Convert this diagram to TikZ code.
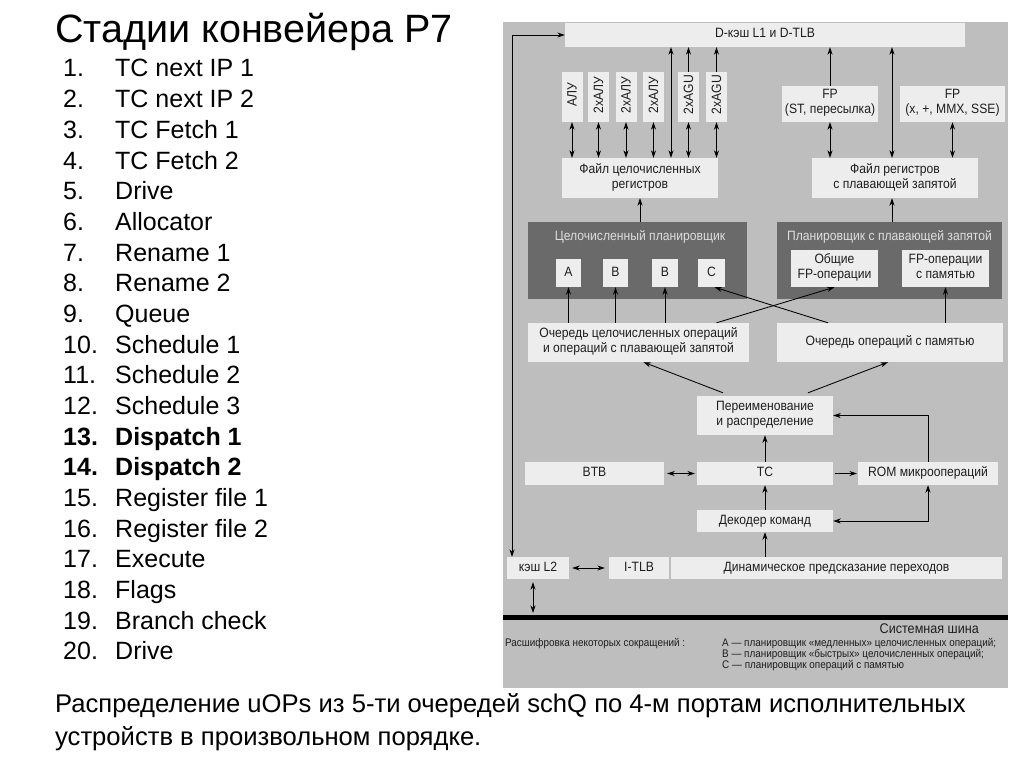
\documentclass[tikz,border=0pt]{standalone}
\usepackage{fontspec}
\setmainfont{Liberation Sans}
\newfontfamily\narrowsans[FakeStretch=0.9]{Liberation Sans}
\usepackage{graphicx}
\usetikzlibrary{arrows.meta}

\definecolor{panelgray}{RGB}{190,190,190}
\definecolor{boxlight}{RGB}{237,237,237}
\definecolor{schdark}{RGB}{106,106,106}
\definecolor{schtext}{RGB}{222,222,222}
\definecolor{ink}{RGB}{30,30,30}

\tikzset{
  lbox/.style={fill=boxlight, inner sep=0pt, text=ink, align=center,
    font=\narrowsans\fontsize{13.5}{15}\selectfont,
    execute at begin node=\strut, execute at end node=\strut},
  dbox/.style={fill=schdark, inner sep=0pt},
  schtitle/.style={text=schtext, inner sep=0pt, font=\narrowsans\fontsize{13.5}{15}\selectfont},
  stage/.style={inner sep=0pt, font=\fontsize{25}{30}\selectfont},
  legend/.style={inner sep=0pt, text=ink, font=\narrowsans\fontsize{11}{11}\selectfont},
  wire/.style={line width=0.85pt, black}
}

\begin{document}
\begin{tikzpicture}[x=1pt, y=-1pt, >={Stealth[length=7.5pt,width=5pt]}]
\useasboundingbox (0,0) rectangle (1024,768);

% stages list
\node[inner sep=0pt, anchor=base west, font=\fontsize{39.5}{44}\selectfont] (title) at (55,43) {Стадии конвейера P7};
\foreach \t [count=\i] in {TC next IP 1, TC next IP 2, TC Fetch 1, TC Fetch 2, Drive,
  Allocator, Rename 1, Rename 2, Queue, Schedule 1, Schedule 2, Schedule 3,
  Dispatch 1, Dispatch 2, Register file 1, Register file 2, Execute, Flags,
  Branch check, Drive}{
  \ifnum\i=13 \def\f{\bfseries}\else\ifnum\i=14 \def\f{\bfseries}\else\def\f{}\fi\fi
  \node[stage, anchor=base west] (num\i) at (63,{77+30.67*(\i-1)}) {\f\i.};
  \node[stage, anchor=base west] (stg\i) at (115,{77+30.67*(\i-1)}) {\f\t};
}
\node[stage, anchor=base west, font=\fontsize{25.6}{30}\selectfont] (note1) at (55,712)
  {Распределение uOPs из 5-ти очередей schQ по 4-м портам исполнительных};
\node[stage, anchor=base west, font=\fontsize{25.6}{30}\selectfont] (note2) at (55,745)
  {устройств в произвольном порядке.};

% block diagram
\fill[panelgray] (503,22) rectangle (1008,688);

\node[lbox, minimum width=400, minimum height=24] (dcache) at (765,35) {D-кэш L1 и D-TLB};
\foreach \nm/\x/\t in {alu1/572/АЛУ, alu2/598.5/2хАЛУ, alu3/626/2хАЛУ,
  alu4/653.5/2хАЛУ, agu1/688.5/2xAGU, agu2/716.5/2xAGU}
  \node[lbox, minimum width=21, minimum height=50, execute at begin node={}, execute at end node={}]
    (\nm) at (\x,97) {\rotatebox{90}{\t}};
\node[lbox, minimum width=96, minimum height=36] (fpst) at (830,104) {FP\\(ST, пересылка)};
\node[lbox, minimum width=105, minimum height=36] (fpmmx) at (952.5,104) {FP\\(x, +, MMX, SSE)};
\node[lbox, minimum width=156, minimum height=40] (intrf) at (640,178) {Файл целочисленных\\регистров};
\node[lbox, minimum width=166, minimum height=40] (fprf) at (895,178) {Файл регистров\\с плавающей запятой};

\node[dbox, minimum width=219, minimum height=77] (intsched) at (637.5,260.5) {};
\node[schtitle] (intschedT) at (640,237) {Целочисленный планировщик};
\node[lbox, minimum width=25, minimum height=28] (A) at (568.5,273) {A};
\node[lbox, minimum width=25, minimum height=28] (B1) at (615.5,273) {B};
\node[lbox, minimum width=26, minimum height=28] (B2) at (665,273) {B};
\node[lbox, minimum width=27, minimum height=28] (C) at (711.5,273) {C};
\node[dbox, minimum width=225, minimum height=77] (fpsched) at (889.5,260.5) {};
\node[schtitle] (fpschedT) at (889.5,237) {Планировщик с плавающей запятой};
\node[lbox, minimum width=87, minimum height=37] (fpcom) at (834.5,268.5) {Общие\\FP-операции};
\node[lbox, minimum width=87, minimum height=37] (fpmem) at (945.5,268.5) {FP-операции\\с памятью};

\node[lbox, minimum width=221, minimum height=39] (intq) at (638.5,342.5)
  {Очередь целочисленных операций\\и операций с плавающей запятой};
\node[lbox, minimum width=226, minimum height=39] (memq) at (890,342.5) {Очередь операций с памятью};
\node[lbox, minimum width=136, minimum height=39] (rename) at (765,415.5) {Переименование\\и распределение};
\node[lbox, minimum width=139, minimum height=23] (btb) at (594.5,473.5) {BTB};
\node[lbox, minimum width=136, minimum height=23] (tc) at (765,473.5) {TC};
\node[lbox, minimum width=140, minimum height=23] (rom) at (928,473.5) {ROM микроопераций};
\node[lbox, minimum width=136, minimum height=22] (decoder) at (765,521) {Декодер команд};
\node[lbox, minimum width=62, minimum height=22] (l2) at (538,568) {кэш L2};
\node[lbox, minimum width=60, minimum height=22] (itlb) at (639,568) {I-TLB};
\node[lbox, minimum width=331, minimum height=22] (bpred) at (836.5,568) {Динамическое предсказание переходов};

\coordinate (busL) at (503,617);
\coordinate (busR) at (1008,617);
\draw[line width=5pt] (busL) -- (busR);
\node[inner sep=0pt, anchor=east, text=ink, font=\narrowsans\fontsize{14}{16}\selectfont] (bus) at (979,629) {Системная шина};
\node[legend, anchor=west] (legT) at (505,644) {Расшифровка некоторых сокращений :};
\node[legend, anchor=west] (legA) at (722,644) {A — планировщик «медленных» целочисленных операций;};
\node[legend, anchor=west] (legB) at (722,655) {B — планировщик «быстрых» целочисленных операций;};
\node[legend, anchor=west] (legC) at (722,666) {C — планировщик операций с памятью};

% connectors
\draw[wire, <->] ([xshift=-26]l2.north) |- (dcache.west);
\draw[wire, <->] ([xshift=3]l2.east) -- ([xshift=-4]itlb.west);
\draw[wire, <->] ([xshift=-5,yshift=-3]l2.south) -- ([xshift=-5,yshift=4]l2.south |- busL);
\draw[wire, ->] (decoder.south |- bpred.north) -- (decoder.south);
\draw[wire, ->] (tc.south |- decoder.north) -- (tc.south);
\draw[wire, ->] (rename.south |- tc.north) -- (rename.south);
\draw[wire, <->] ([xshift=3]btb.east) -- ([xshift=-2]tc.west);
\draw[wire, ->] ([xshift=2]tc.east) -- ([xshift=-1]rom.west);
\draw[wire, ->] (rom.north) |- (rename.east);
\draw[wire, <->] (rom.south) |- (decoder.east);
\draw[wire, ->] ([xshift=-42,yshift=3]rename.north) -- ([xshift=5]intq.south);
\draw[wire, ->] ([xshift=43,yshift=3]rename.north) -- ([xshift=-2]memq.south);
\foreach \q in {A, B1, B2}
  \draw[wire, ->] (\q.south |- intq.north) -- (\q.south);
\draw[wire, ->] ([xshift=78]intq.north) -- (fpcom.south);
\draw[wire, ->] ([xshift=-62]memq.north) -- ([xshift=3]C.south);
\draw[wire, ->] (fpmem.south |- memq.north) -- (fpmem.south);
\draw[wire, ->] (intrf.south |- intsched.north) -- (intrf.south);
\draw[wire, ->] ([xshift=-3]fprf.south |- fpsched.north) -- ([xshift=-3]fprf.south);
\foreach \u in {alu1, alu2, alu3, alu4, agu1, agu2}
  \draw[wire, <->] (\u.south) -- (\u.south |- intrf.north);
\foreach \u in {agu1, agu2}
  \draw[wire, ->] (\u.north) -- (\u.north |- dcache.south);
\draw[wire, <->] ([xshift=31]intrf.north) -- ([xshift=31]intrf.north |- dcache.south);
\draw[wire, ->] (fpst.north) -- (fpst.north |- dcache.south);
\draw[wire, <->] (fpst.south) -- (fpst.south |- fprf.north);
\draw[wire, <->] (fpmmx.south) -- (fpmmx.south |- fprf.north);
\draw[wire, <->] ([xshift=-3]fprf.north) -- ([xshift=-3]fprf.north |- dcache.south);
\end{tikzpicture}
\end{document}
